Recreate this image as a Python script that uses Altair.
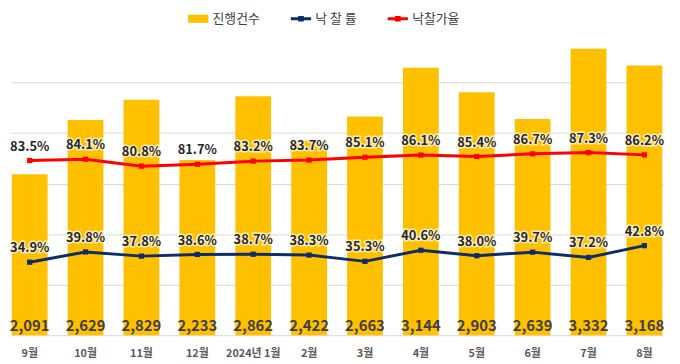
import altair as alt
import pandas as pd

months = ["9월", "10월", "11월", "12월", "2024년 1월", "2월", "3월", "4월", "5월", "6월", "7월", "8월"]
counts = [2091, 2629, 2829, 2233, 2862, 2422, 2663, 3144, 2903, 2639, 3332, 3168]
sale_rate = [34.9, 39.8, 37.8, 38.6, 38.7, 38.3, 35.3, 40.6, 38.0, 39.7, 37.2, 42.8]
price_rate = [83.5, 84.1, 80.8, 81.7, 83.2, 83.7, 85.1, 86.1, 85.4, 86.7, 87.3, 86.2]
legend_names = ["진행건수", "낙 찰 률", "낙찰가율"]
legend_colors = ["#FFC000", "#0F2C6B", "#FF0000"]
grid_values = [500, 1000, 1500, 2000, 2500, 3000]

FONT = "Noto Sans CJK KR"
YELLOW, NAVY, RED = legend_colors

df = pd.DataFrame({"month": months, "count": counts, "rate": sale_rate, "price": price_rate})
leg_df = pd.DataFrame({"series": legend_names})

x = alt.X("month:N", sort=months, title=None,
          scale=alt.Scale(paddingInner=0.36, paddingOuter=0.015),
          axis=alt.Axis(labelAngle=0, ticks=False, domain=False, labelFont=FONT,
                        labelFontSize=11, labelColor="#595959", labelPadding=13,
                        labelFontWeight="bold"))

cnt_scale = alt.Scale(domain=[500, 3500], zero=False, nice=False)
pct_scale = alt.Scale(domain=[0, 145], nice=False)

base = alt.Chart(df)

bars = base.mark_bar(color=YELLOW).encode(
    x=x,
    y=alt.Y("count:Q", scale=cnt_scale, title=None,
            axis=alt.Axis(grid=True, labels=False, ticks=False, domain=False,
                          values=grid_values, gridColor="#D9D9D9", gridWidth=1)),
    y2=alt.datum(500),
)

cnt_text = base.mark_text(font=FONT, fontSize=15, fontWeight="bold", color="#404040",
                          baseline="middle", dy=-9).encode(
    x=alt.X("month:N", sort=months),
    y=alt.Y("base:Q", scale=cnt_scale, axis=None),
    text=alt.Text("count:Q", format=","),
).transform_calculate(base="500")


def pct_layers(field, color):
    line = base.mark_line(color=color, strokeWidth=3,
                          point=alt.OverlayMarkDef(shape="square", size=28, color=color, filled=True)).encode(
        x=alt.X("month:N", sort=months),
        y=alt.Y(f"{field}:Q", scale=pct_scale, axis=None),
    )
    lab = alt.Chart(df).transform_calculate(
        lbl=f"format(datum.{field}, '.1f') + '%'"
    )
    halo = lab.mark_text(font=FONT, fontSize=13, fontWeight="bold", color="white",
                         stroke="white", strokeWidth=3, strokeOpacity=0.7,
                         baseline="middle", dy=-14).encode(
        x=alt.X("month:N", sort=months),
        y=alt.Y(f"{field}:Q", scale=pct_scale, axis=None),
        text="lbl:N",
    )
    txt = lab.mark_text(font=FONT, fontSize=13, fontWeight="bold", color="#262626",
                        baseline="middle", dy=-14).encode(
        x=alt.X("month:N", sort=months),
        y=alt.Y(f"{field}:Q", scale=pct_scale, axis=None),
        text="lbl:N",
    )
    return [line, halo, txt]


bar_path = "M-1,-0.4L1,-0.4L1,0.4L-1,0.4Z"
line_path = "M-1,-0.14L1,-0.14L1,0.14L-1,0.14Z M-0.28,-0.28L0.28,-0.28L0.28,0.28L-0.28,0.28Z"

legend_layer = alt.Chart(leg_df).mark_point(filled=True, size=400, opacity=1).encode(
    x=alt.value(-60),
    y=alt.value(-60),
    color=alt.Color("series:N", title=None,
                    scale=alt.Scale(domain=legend_names, range=legend_colors),
                    legend=alt.Legend(orient="none", direction="horizontal", legendX=179, legendY=-24,
                                      labelFont=FONT, labelFontSize=13, labelColor="#404040",
                                      columnPadding=31, labelOffset=4, symbolSize=420,
                                      symbolStrokeWidth=0, symbolOpacity=1)),
    shape=alt.Shape("series:N", scale=alt.Scale(domain=legend_names, range=[bar_path, line_path, line_path]),
                    title=None),
)

chart = alt.layer(
    bars, cnt_text, *pct_layers("price", RED), *pct_layers("rate", NAVY), legend_layer
).resolve_scale(y="independent").properties(
    width=660, height=307,
    autosize=alt.AutoSizeParams(type="none"),
    padding={"left": 3, "top": 22, "right": 9, "bottom": 27},
).configure_view(stroke=None)

chart.save("out.html", embed_options={"renderer": "svg", "actions": False})
